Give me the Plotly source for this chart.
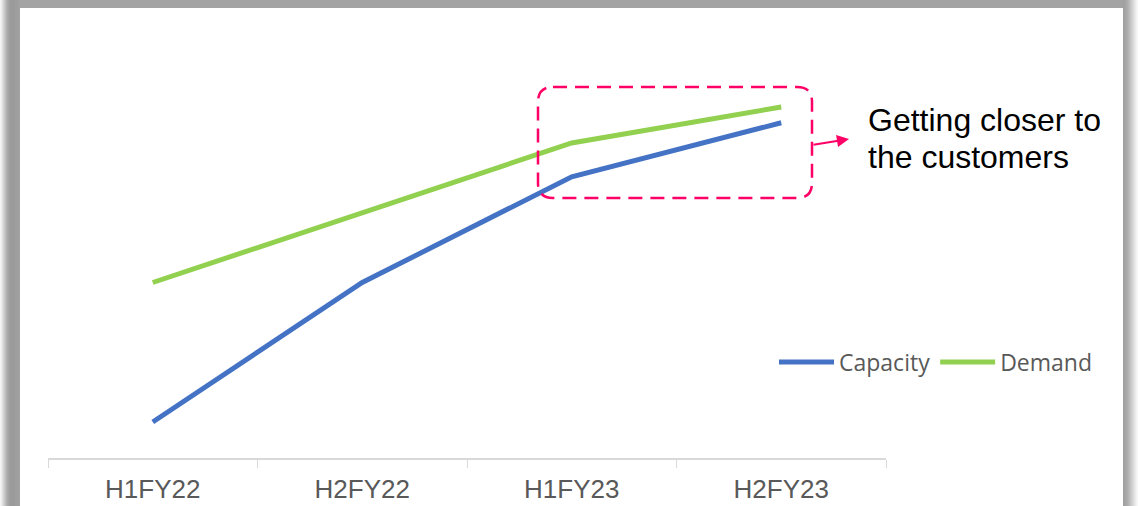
import plotly.graph_objects as go

# ---- data ----
periods = ["H1FY22", "H2FY22", "H1FY23", "H2FY23"]
capacity = [8.0, 39.0, 62.5, 74.5]
demand = [39.0, 54.5, 70.0, 78.0]
callout_lines = ["Getting closer to", "the customers"]

W, H = 1138, 506
ML, MR, MT, MB = 48, 252, 8, 48
PW = W - ML - MR
PH = H - MT - MB


def px(x):
    return (x - ML) / PW


def py(y):
    return (H - MB - y) / PH


fig = go.Figure()
fig.add_trace(go.Scatter(x=periods, y=capacity, name="Capacity", mode="lines",
                         line=dict(color="#4472C4", width=5)))
fig.add_trace(go.Scatter(x=periods, y=demand, name="Demand", mode="lines",
                         line=dict(color="#92D050", width=5)))

shapes = []
# grey frame (left gradient, top, right gradient)
left_cols = ["#F4F4F4", "#EAEAEA", "#E0E0E0", "#D4D4D4", "#C8C8C8", "#BDBDBD", "#B3B3B3",
             "#AAAAAA", "#A3A3A3", "#9E9E9E", "#9B9B9B", "#9A9A9A", "#9A9A9A", "#9B9B9B",
             "#9C9C9C", "#9D9D9D", "#9E9E9E", "#9F9F9F", "#A0A0A0", "#A1A1A1"]
for i, c in enumerate(left_cols):
    shapes.append(dict(type="rect", xref="paper", yref="paper", x0=px(i), x1=px(i + 1),
                       y0=py(H), y1=py(0), fillcolor=c, line_width=0, layer="below"))
shapes.append(dict(type="rect", xref="paper", yref="paper", x0=px(20), x1=px(1123),
                   y0=py(8), y1=py(0), fillcolor="#A3A3A3", line_width=0, layer="below"))
right_cols = ["#A0A0A0", "#A2A2A2", "#A5A5A5", "#A9A9A9", "#AEAEAE", "#B4B4B4", "#BBBBBB",
              "#C3C3C3", "#CBCBCB", "#D3D3D3", "#DBDBDB", "#E3E3E3", "#EBEBEB", "#F2F2F2",
              "#F8F8F8"]
for i, c in enumerate(right_cols):
    shapes.append(dict(type="rect", xref="paper", yref="paper", x0=px(1123 + i), x1=px(1124 + i),
                       y0=py(H), y1=py(0), fillcolor=c, line_width=0, layer="below"))

# dashed rounded callout box
x0, x1, y0, y1, r = 538, 812, 87, 198, 15
path = (f"M{px(x0 + r)},{py(y0)} L{px(x1 - r)},{py(y0)} Q{px(x1)},{py(y0)} {px(x1)},{py(y0 + r)} "
        f"L{px(x1)},{py(y1 - r)} Q{px(x1)},{py(y1)} {px(x1 - r)},{py(y1)} "
        f"L{px(x0 + r)},{py(y1)} Q{px(x0)},{py(y1)} {px(x0)},{py(y1 - r)} "
        f"L{px(x0)},{py(y0 + r)} Q{px(x0)},{py(y0)} {px(x0 + r)},{py(y0)} Z")
shapes.append(dict(type="path", xref="paper", yref="paper", path=path,
                   line=dict(color="#FF0066", width=2.5, dash="14px,8px")))

annotations = [
    dict(xref="paper", yref="paper", x=px(849), y=py(139), ax=-37, ay=6, text="",
         showarrow=True, arrowhead=2, arrowsize=1.1, arrowwidth=2.2, arrowcolor="#FF0066"),
]
for i, line_text in enumerate(callout_lines):
    annotations.append(dict(xref="paper", yref="paper", x=px(866), y=py(120 + 37 * i),
                            xanchor="left", yanchor="middle", align="left", text=line_text,
                            showarrow=False,
                            font=dict(family="Liberation Sans, Arial", size=32, color="#000000")))

fig.update_layout(
    width=W, height=H, autosize=False,
    margin=dict(l=ML, r=MR, t=MT, b=MB, pad=0, autoexpand=False),
    paper_bgcolor="white", plot_bgcolor="white",
    shapes=shapes, annotations=annotations,
    showlegend=True,
    legend=dict(orientation="h", x=px(774), y=py(362), xanchor="left", yanchor="middle",
                font=dict(family="Open Sans", size=23, color="#595959"),
                bgcolor="rgba(0,0,0,0)", itemwidth=55, tracegroupgap=0),
    xaxis=dict(type="category", range=[-0.5, 3.5], showgrid=False, zeroline=False,
               automargin=False,
               showline=True, linecolor="#D9D9D9", linewidth=1.5,
               ticks="outside", ticklen=8, tickcolor="#D9D9D9", tickson="boundaries",
               ticklabelstandoff=7,
               tickfont=dict(family="Liberation Sans, Arial", size=26, color="#595959")),
    yaxis=dict(range=[0, 100], visible=False, showgrid=False, zeroline=False,
               automargin=False),
)

fig.write_html(
    "out.html",
    config={"responsive": False, "displayModeBar": False},
    post_script="document.body.style.margin='0';document.documentElement.style.overflow='hidden';",
)
